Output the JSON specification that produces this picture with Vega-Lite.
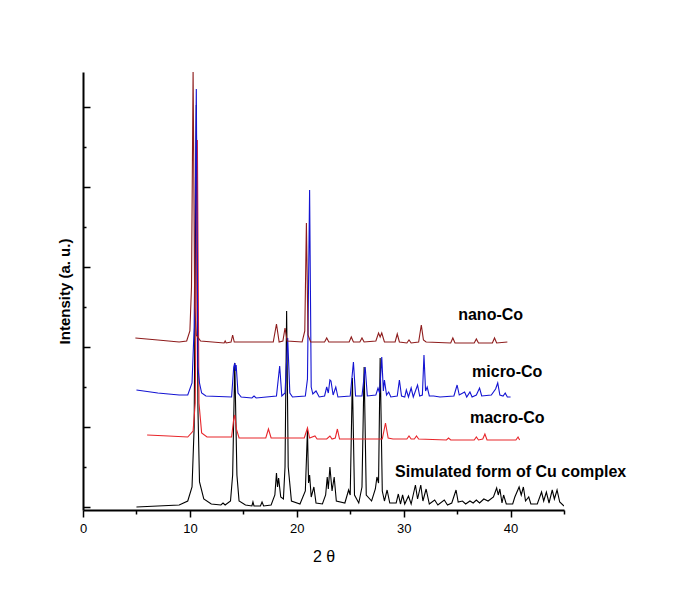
{
  "$schema": "https://vega.github.io/schema/vega-lite/v6.json",
  "autosize": "none",
  "width": 481,
  "height": 438,
  "padding": {"left": 83, "top": 72, "right": 121, "bottom": 104},
  "background": "white",
  "config": {
    "view": {"stroke": null},
    "font": "Liberation Sans",
    "axis": {"grid": false, "domainColor": "#000", "domainWidth": 2, "tickColor": "#000", "tickWidth": 1.5, "labelColor": "#000", "titleColor": "#000", "labelFont": "Liberation Sans", "titleFont": "Liberation Sans"}
  },
  "datasets": {
    "xrd": [
      {"s":"sim","x":5,"y":0},{"s":"sim","x":9,"y":50},{"s":"sim","x":9.8,"y":150},{"s":"sim","x":10.2,"y":500},{"s":"sim","x":10.4,"y":2000},{"s":"sim","x":10.6,"y":10050},{"s":"sim","x":10.75,"y":2500},{"s":"sim","x":10.9,"y":625},{"s":"sim","x":11.3,"y":200},{"s":"sim","x":12,"y":75},{"s":"sim","x":12.9,"y":50},{"s":"sim","x":13.1,"y":100},{"s":"sim","x":13.3,"y":50},{"s":"sim","x":13.8,"y":150},{"s":"sim","x":14.0,"y":800},{"s":"sim","x":14.2,"y":3600},{"s":"sim","x":14.4,"y":800},{"s":"sim","x":14.6,"y":150},{"s":"sim","x":15.2,"y":50},{"s":"sim","x":15.8,"y":25},{"s":"sim","x":15.9,"y":125},{"s":"sim","x":16.0,"y":25},{"s":"sim","x":16.6,"y":25},{"s":"sim","x":16.75,"y":125},{"s":"sim","x":16.9,"y":25},{"s":"sim","x":17.6,"y":50},{"s":"sim","x":17.95,"y":300},{"s":"sim","x":18.1,"y":850},{"s":"sim","x":18.2,"y":500},{"s":"sim","x":18.3,"y":725},{"s":"sim","x":18.5,"y":250},{"s":"sim","x":18.75,"y":200},{"s":"sim","x":18.9,"y":1000},{"s":"sim","x":19.05,"y":4900},{"s":"sim","x":19.2,"y":1000},{"s":"sim","x":19.5,"y":150},{"s":"sim","x":20.3,"y":75},{"s":"sim","x":20.8,"y":400},{"s":"sim","x":21.0,"y":1925},{"s":"sim","x":21.1,"y":600},{"s":"sim","x":21.2,"y":800},{"s":"sim","x":21.35,"y":250},{"s":"sim","x":21.6,"y":500},{"s":"sim","x":21.8,"y":100},{"s":"sim","x":22.4,"y":75},{"s":"sim","x":22.7,"y":300},{"s":"sim","x":22.85,"y":750},{"s":"sim","x":22.95,"y":450},{"s":"sim","x":23.1,"y":1000},{"s":"sim","x":23.3,"y":400},{"s":"sim","x":23.5,"y":750},{"s":"sim","x":23.7,"y":150},{"s":"sim","x":24.5,"y":100},{"s":"sim","x":24.85,"y":425},{"s":"sim","x":25.0,"y":300},{"s":"sim","x":25.2,"y":3225},{"s":"sim","x":25.4,"y":300},{"s":"sim","x":25.8,"y":100},{"s":"sim","x":26.1,"y":500},{"s":"sim","x":26.3,"y":3500},{"s":"sim","x":26.5,"y":300},{"s":"sim","x":27.0,"y":150},{"s":"sim","x":27.35,"y":450},{"s":"sim","x":27.5,"y":750},{"s":"sim","x":27.65,"y":600},{"s":"sim","x":27.8,"y":3725},{"s":"sim","x":28.0,"y":400},{"s":"sim","x":28.2,"y":150},{"s":"sim","x":28.45,"y":425},{"s":"sim","x":28.7,"y":100},{"s":"sim","x":29.3,"y":100},{"s":"sim","x":29.5,"y":325},{"s":"sim","x":29.7,"y":75},{"s":"sim","x":29.9,"y":300},{"s":"sim","x":30.1,"y":75},{"s":"sim","x":30.45,"y":275},{"s":"sim","x":30.7,"y":75},{"s":"sim","x":31.1,"y":550},{"s":"sim","x":31.3,"y":200},{"s":"sim","x":31.6,"y":550},{"s":"sim","x":31.8,"y":150},{"s":"sim","x":32.1,"y":450},{"s":"sim","x":32.4,"y":75},{"s":"sim","x":32.9,"y":175},{"s":"sim","x":33.2,"y":50},{"s":"sim","x":33.8,"y":175},{"s":"sim","x":34.1,"y":50},{"s":"sim","x":34.5,"y":100},{"s":"sim","x":34.9,"y":425},{"s":"sim","x":35.1,"y":125},{"s":"sim","x":35.5,"y":150},{"s":"sim","x":35.8,"y":75},{"s":"sim","x":36.2,"y":150},{"s":"sim","x":36.5,"y":100},{"s":"sim","x":36.8,"y":175},{"s":"sim","x":37.1,"y":100},{"s":"sim","x":37.5,"y":200},{"s":"sim","x":37.9,"y":150},{"s":"sim","x":38.4,"y":250},{"s":"sim","x":38.7,"y":475},{"s":"sim","x":38.85,"y":300},{"s":"sim","x":39.0,"y":450},{"s":"sim","x":39.2,"y":100},{"s":"sim","x":39.35,"y":300},{"s":"sim","x":39.6,"y":75},{"s":"sim","x":40.2,"y":75},{"s":"sim","x":40.4,"y":250},{"s":"sim","x":40.8,"y":500},{"s":"sim","x":41.0,"y":300},{"s":"sim","x":41.2,"y":500},{"s":"sim","x":41.4,"y":150},{"s":"sim","x":41.7,"y":250},{"s":"sim","x":41.9,"y":75},{"s":"sim","x":42.5,"y":75},{"s":"sim","x":42.9,"y":375},{"s":"sim","x":43.1,"y":150},{"s":"sim","x":43.35,"y":375},{"s":"sim","x":43.6,"y":100},{"s":"sim","x":43.9,"y":425},{"s":"sim","x":44.1,"y":200},{"s":"sim","x":44.35,"y":425},{"s":"sim","x":44.6,"y":125},{"s":"sim","x":45.0,"y":25},

      {"s":"macro","x":6.0,"y":1800},{"s":"macro","x":8,"y":1775},{"s":"macro","x":9.8,"y":1750},{"s":"macro","x":10.3,"y":1900},{"s":"macro","x":10.5,"y":2600},{"s":"macro","x":10.7,"y":9175},{"s":"macro","x":10.85,"y":2600},{"s":"macro","x":11.1,"y":1850},{"s":"macro","x":11.6,"y":1750},{"s":"macro","x":13.9,"y":1750},{"s":"macro","x":14.1,"y":2200},{"s":"macro","x":14.2,"y":2300},{"s":"macro","x":14.35,"y":1950},{"s":"macro","x":14.6,"y":1725},{"s":"macro","x":17.1,"y":1725},{"s":"macro","x":17.35,"y":1950},{"s":"macro","x":17.6,"y":1725},{"s":"macro","x":20.7,"y":1725},{"s":"macro","x":21.0,"y":1975},{"s":"macro","x":21.2,"y":1725},{"s":"macro","x":21.7,"y":1775},{"s":"macro","x":21.9,"y":1700},{"s":"macro","x":22.8,"y":1700},{"s":"macro","x":23.1,"y":1775},{"s":"macro","x":23.3,"y":1700},{"s":"macro","x":23.6,"y":1725},{"s":"macro","x":23.8,"y":1950},{"s":"macro","x":24.0,"y":1700},{"s":"macro","x":28.0,"y":1700},{"s":"macro","x":28.3,"y":2100},{"s":"macro","x":28.55,"y":1725},{"s":"macro","x":29.0,"y":1700},{"s":"macro","x":30.3,"y":1700},{"s":"macro","x":30.5,"y":1775},{"s":"macro","x":30.7,"y":1700},{"s":"macro","x":31.0,"y":1700},{"s":"macro","x":31.2,"y":1775},{"s":"macro","x":31.4,"y":1700},{"s":"macro","x":34.0,"y":1675},{"s":"macro","x":34.2,"y":1725},{"s":"macro","x":34.4,"y":1675},{"s":"macro","x":36.6,"y":1675},{"s":"macro","x":36.8,"y":1750},{"s":"macro","x":37.0,"y":1675},{"s":"macro","x":37.4,"y":1700},{"s":"macro","x":37.6,"y":1825},{"s":"macro","x":37.8,"y":1675},{"s":"macro","x":40.5,"y":1675},{"s":"macro","x":40.7,"y":1750},{"s":"macro","x":40.85,"y":1675},

      {"s":"micro","x":5.0,"y":2925},{"s":"micro","x":7,"y":2850},{"s":"micro","x":9,"y":2800},{"s":"micro","x":9.8,"y":2800},{"s":"micro","x":10.2,"y":3100},{"s":"micro","x":10.4,"y":4500},{"s":"micro","x":10.6,"y":10450},{"s":"micro","x":10.75,"y":3500},{"s":"micro","x":10.9,"y":3100},{"s":"micro","x":11.1,"y":2850},{"s":"micro","x":11.5,"y":2775},{"s":"micro","x":13.9,"y":2750},{"s":"micro","x":14.1,"y":3500},{"s":"micro","x":14.2,"y":3600},{"s":"micro","x":14.27,"y":3400},{"s":"micro","x":14.33,"y":3550},{"s":"micro","x":14.5,"y":2850},{"s":"micro","x":14.8,"y":2750},{"s":"micro","x":15.8,"y":2725},{"s":"micro","x":16.0,"y":2775},{"s":"micro","x":16.2,"y":2725},{"s":"micro","x":18.1,"y":2775},{"s":"micro","x":18.4,"y":3525},{"s":"micro","x":18.6,"y":2775},{"s":"micro","x":18.9,"y":2850},{"s":"micro","x":19.15,"y":4225},{"s":"micro","x":19.35,"y":2850},{"s":"micro","x":19.6,"y":2750},{"s":"micro","x":20.8,"y":2775},{"s":"micro","x":21.0,"y":3200},{"s":"micro","x":21.2,"y":7925},{"s":"micro","x":21.35,"y":3000},{"s":"micro","x":21.5,"y":2825},{"s":"micro","x":21.8,"y":2900},{"s":"micro","x":22.1,"y":2750},{"s":"micro","x":22.6,"y":2775},{"s":"micro","x":22.8,"y":3000},{"s":"micro","x":22.95,"y":2850},{"s":"micro","x":23.1,"y":3175},{"s":"micro","x":23.2,"y":3150},{"s":"micro","x":23.4,"y":2800},{"s":"micro","x":23.65,"y":3000},{"s":"micro","x":23.85,"y":2750},{"s":"micro","x":25.0,"y":2775},{"s":"micro","x":25.3,"y":3625},{"s":"micro","x":25.5,"y":2775},{"s":"micro","x":26.1,"y":2775},{"s":"micro","x":26.4,"y":3500},{"s":"micro","x":26.6,"y":2775},{"s":"micro","x":27.4,"y":2800},{"s":"micro","x":27.6,"y":2975},{"s":"micro","x":27.75,"y":2850},{"s":"micro","x":27.95,"y":3750},{"s":"micro","x":28.1,"y":2900},{"s":"micro","x":28.2,"y":3175},{"s":"micro","x":28.4,"y":2800},{"s":"micro","x":28.6,"y":2875},{"s":"micro","x":28.8,"y":2750},{"s":"micro","x":29.4,"y":2775},{"s":"micro","x":29.6,"y":3175},{"s":"micro","x":29.8,"y":2775},{"s":"micro","x":30.1,"y":2750},{"s":"micro","x":30.25,"y":2925},{"s":"micro","x":30.45,"y":2750},{"s":"micro","x":30.7,"y":2975},{"s":"micro","x":30.9,"y":2750},{"s":"micro","x":31.3,"y":3050},{"s":"micro","x":31.5,"y":2775},{"s":"micro","x":31.75,"y":2800},{"s":"micro","x":31.9,"y":3800},{"s":"micro","x":32.05,"y":2900},{"s":"micro","x":32.2,"y":3000},{"s":"micro","x":32.4,"y":2775},{"s":"micro","x":32.8,"y":2775},{"s":"micro","x":33.4,"y":2750},{"s":"micro","x":34.7,"y":2775},{"s":"micro","x":35.0,"y":3050},{"s":"micro","x":35.2,"y":2800},{"s":"micro","x":35.7,"y":2875},{"s":"micro","x":35.9,"y":2750},{"s":"micro","x":36.2,"y":2875},{"s":"micro","x":36.4,"y":2750},{"s":"micro","x":36.8,"y":2800},{"s":"micro","x":37.1,"y":2975},{"s":"micro","x":37.3,"y":2775},{"s":"micro","x":38.2,"y":2800},{"s":"micro","x":38.6,"y":2950},{"s":"micro","x":38.8,"y":3100},{"s":"micro","x":39.0,"y":2800},{"s":"micro","x":39.3,"y":2775},{"s":"micro","x":39.5,"y":2850},{"s":"micro","x":39.7,"y":2750},{"s":"micro","x":40.0,"y":2750},

      {"s":"nano","x":4.9,"y":4225},{"s":"nano","x":7,"y":4175},{"s":"nano","x":9,"y":4125},{"s":"nano","x":9.7,"y":4150},{"s":"nano","x":10.0,"y":4400},{"s":"nano","x":10.15,"y":5500},{"s":"nano","x":10.3,"y":10900},{"s":"nano","x":10.45,"y":5000},{"s":"nano","x":10.6,"y":4300},{"s":"nano","x":11,"y":4150},{"s":"nano","x":13.2,"y":4100},{"s":"nano","x":13.3,"y":4150},{"s":"nano","x":13.4,"y":4100},{"s":"nano","x":13.85,"y":4125},{"s":"nano","x":14.0,"y":4300},{"s":"nano","x":14.15,"y":4125},{"s":"nano","x":17.8,"y":4125},{"s":"nano","x":18.1,"y":4575},{"s":"nano","x":18.35,"y":4125},{"s":"nano","x":18.7,"y":4150},{"s":"nano","x":18.9,"y":4475},{"s":"nano","x":19.1,"y":4150},{"s":"nano","x":20.5,"y":4125},{"s":"nano","x":20.75,"y":4400},{"s":"nano","x":20.9,"y":7100},{"s":"nano","x":21.05,"y":4300},{"s":"nano","x":21.3,"y":4125},{"s":"nano","x":22.6,"y":4125},{"s":"nano","x":22.8,"y":4225},{"s":"nano","x":23.0,"y":4125},{"s":"nano","x":24.9,"y":4125},{"s":"nano","x":25.1,"y":4250},{"s":"nano","x":25.3,"y":4125},{"s":"nano","x":25.9,"y":4125},{"s":"nano","x":26.1,"y":4225},{"s":"nano","x":26.3,"y":4125},{"s":"nano","x":27.4,"y":4150},{"s":"nano","x":27.65,"y":4350},{"s":"nano","x":27.8,"y":4250},{"s":"nano","x":27.95,"y":4350},{"s":"nano","x":28.2,"y":4125},{"s":"nano","x":29.2,"y":4125},{"s":"nano","x":29.4,"y":4325},{"s":"nano","x":29.6,"y":4125},{"s":"nano","x":30.3,"y":4100},{"s":"nano","x":30.5,"y":4175},{"s":"nano","x":30.7,"y":4100},{"s":"nano","x":31.4,"y":4125},{"s":"nano","x":31.65,"y":4550},{"s":"nano","x":31.85,"y":4175},{"s":"nano","x":32.1,"y":4125},{"s":"nano","x":34.4,"y":4100},{"s":"nano","x":34.6,"y":4225},{"s":"nano","x":34.8,"y":4100},{"s":"nano","x":36.6,"y":4100},{"s":"nano","x":36.8,"y":4200},{"s":"nano","x":37.0,"y":4100},{"s":"nano","x":38.3,"y":4100},{"s":"nano","x":38.5,"y":4225},{"s":"nano","x":38.7,"y":4100},{"s":"nano","x":39.7,"y":4125}
    ],
    "labels": [
      {"x":35.1,"y":4800,"t":"nano-Co"},
      {"x":36.4,"y":3375,"t":"micro-Co"},
      {"x":36.2,"y":2225,"t":"macro-Co"},
      {"x":29.2,"y":875,"t":"Simulated form of Cu complex"}
    ]
  },
  "layer": [
    {
      "data": {"name": "xrd"},
      "mark": {"type": "line", "strokeWidth": 1.1, "clip": true},
      "encoding": {
        "x": {
          "field": "x", "type": "quantitative",
          "scale": {"domain": [0, 45], "nice": false, "zero": false},
          "axis": {
            "title": "2 θ", "titleFontSize": 16, "titleFontWeight": "normal", "titlePadding": 13,
            "values": [0,5,10,15,20,25,30,35,40,45],
            "labelExpr": "datum.value % 10 === 0 ? datum.label : ''",
            "labelFontSize": 13, "labelPadding": 5, "labelFlush": false,
            "tickSize": {"condition": {"test": "datum.value % 10 === 0", "value": 7}, "value": 4}
          }
        },
        "y": {
          "field": "y", "type": "quantitative",
          "scale": {"domain": [-75, 10875], "nice": false, "zero": false},
          "axis": {
            "title": "Intensity (a. u.)", "titleFontSize": 15, "titleFontWeight": "bold", "titlePadding": 10,
            "labels": false,
            "values": [0,1000,2000,3000,4000,5000,6000,7000,8000,9000,10000],
            "tickSize": {"condition": {"test": "datum.value % 2000 === 0", "value": -7}, "value": -3}
          }
        },
        "color": {
          "field": "s", "type": "nominal",
          "scale": {"domain": ["sim", "macro", "micro", "nano"], "range": ["#000000", "#E8262B", "#1414D2", "#8E1C1C"]},
          "legend": null
        }
      }
    },
    {
      "data": {"name": "labels"},
      "mark": {"type": "text", "align": "left", "baseline": "middle", "fontSize": 16, "fontWeight": "bold", "font": "Liberation Sans", "color": "#000"},
      "encoding": {
        "x": {"field": "x", "type": "quantitative"},
        "y": {"field": "y", "type": "quantitative"},
        "text": {"field": "t"}
      }
    }
  ]
}
